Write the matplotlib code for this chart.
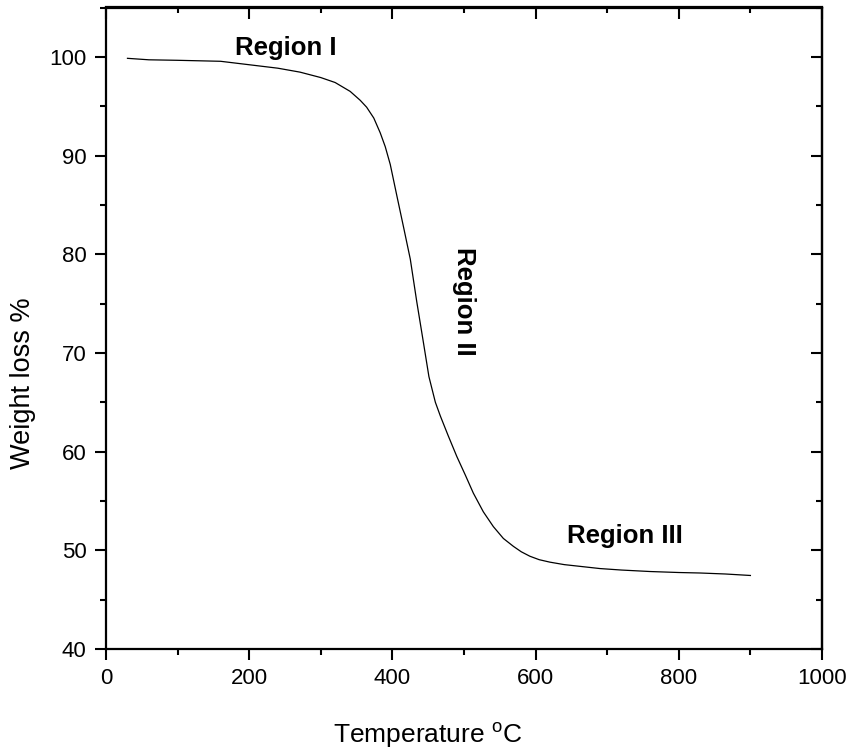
import matplotlib
matplotlib.use("Agg")
import matplotlib.pyplot as plt
from matplotlib.ticker import MultipleLocator

plt.rcParams['font.family'] = ['Liberation Sans', 'DejaVu Sans']
plt.rcParams['mathtext.fontset'] = 'custom'
plt.rcParams['mathtext.rm'] = 'Liberation Sans'
plt.rcParams['mathtext.it'] = 'Liberation Sans:italic'

# Data
temperature = [30, 60, 100, 160, 200, 240, 271, 300, 320, 341, 355, 364, 374,
               383, 390, 397, 406, 416, 425, 434, 443, 451, 460, 467, 478,
               490, 502, 513, 527, 541, 555, 569, 580, 592, 605, 620, 640,
               665, 690, 720, 760, 800, 830, 865, 900]
weight = [99.85, 99.7, 99.65, 99.55, 99.2, 98.85, 98.45, 97.9, 97.4, 96.5,
          95.6, 94.9, 93.8, 92.3, 90.9, 89.1, 86.0, 82.6, 79.5, 75.2, 71.2,
          67.6, 65.0, 63.6, 61.6, 59.5, 57.6, 55.8, 53.9, 52.4, 51.2, 50.4,
          49.85, 49.4, 49.05, 48.8, 48.55, 48.35, 48.15, 48.0, 47.85, 47.75,
          47.7, 47.6, 47.45]

xticks = [0, 200, 400, 600, 800, 1000]
yticks = [40, 50, 60, 70, 80, 90, 100]

W, H = 853, 756
fig = plt.figure(figsize=(W / 100, H / 100), dpi=100)
ax = fig.add_axes([106 / W, 1 - 649 / H, (822 - 106) / W, (649 - 7.5) / H])

ax.plot(temperature, weight, color='black', lw=0.9)

ax.set_xlim(0, 1000)
ax.set_ylim(40, 105)
ax.set_xticks(xticks)
ax.set_yticks(yticks)
ax.xaxis.set_minor_locator(MultipleLocator(100))
ax.yaxis.set_minor_locator(MultipleLocator(5))

for s in ax.spines.values():
    s.set_linewidth(1.6)

ax.tick_params(which='major', direction='out', length=8, width=1.5,
               labelsize=16, pad=6)
ax.tick_params(which='minor', direction='out', length=4.3, width=1.5)

# top and right: inward ticks without labels
sx = ax.secondary_xaxis('top')
sx.set_xticks(xticks)
sx.xaxis.set_minor_locator(MultipleLocator(100))
sx.tick_params(which='major', direction='in', length=8.5, width=1.5, labeltop=False)
sx.tick_params(which='minor', direction='in', length=4.3, width=1.5)
sx.spines['top'].set_linewidth(1.6)
sy = ax.secondary_yaxis('right')
sy.set_yticks(yticks)
sy.yaxis.set_minor_locator(MultipleLocator(5))
sy.tick_params(which='major', direction='in', length=8, width=1.5, labelright=False)
sy.tick_params(which='minor', direction='in', length=4.3, width=1.5)
sy.spines['right'].set_linewidth(1.6)

ax.set_xlabel(r'Temperature $^{\mathrm{o}}$C', fontsize=19)
ax.xaxis.label.set_va('baseline')
ax.xaxis.set_label_coords(428 / W, 1 - 743 / H, transform=fig.transFigure)

ax.set_ylabel('Weight loss %', fontsize=19.5)
ax.yaxis.label.set_va('center')
ax.yaxis.set_label_coords(23 / W, 1 - 383 / H, transform=fig.transFigure)

ax.text(251.6, 100.2, 'Region I', fontsize=18.5, fontweight='bold',
        ha='center', va='baseline')
ax.text(500, 75.2, 'Region II', fontsize=18.5, fontweight='bold',
        ha='center', va='center', rotation=-90)
ax.text(644, 50.76, 'Region III', fontsize=18.5, fontweight='bold',
        ha='left', va='baseline')

fig.savefig('out.png', dpi=100)
